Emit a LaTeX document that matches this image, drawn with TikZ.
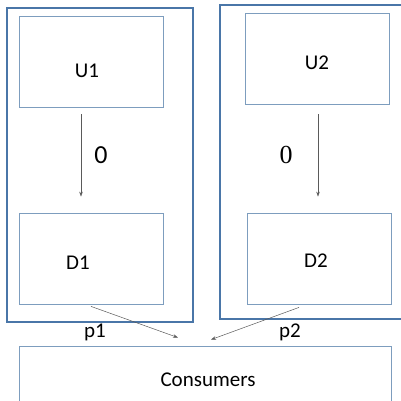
\documentclass[tikz,border=0pt]{standalone}
\usepackage{fontspec}
\setmainfont{Carlito}
\newfontfamily\serifzero{Liberation Serif}
\usepackage{tikz}
\usetikzlibrary{calc, positioning, arrows.meta}

\definecolor{frameblue}{RGB}{74,118,168}
\definecolor{boxblue}{RGB}{125,157,190}
\definecolor{arrowgray}{RGB}{90,90,90}

\tikzset{
	firm/.style={draw=frameblue, line width=1.6pt, inner sep=0pt},
	unit/.style={draw=boxblue, line width=0.8pt, inner sep=0pt, minimum width=144pt, minimum height=91pt},
	tag/.style={font=\fontsize{21}{24}\selectfont, inner sep=0pt},
	flow/.style={draw=arrowgray, line width=0.5pt, -{Stealth[length=5pt,width=3.5pt]}},
	zero/.style={font=\fontsize{26}{30}\selectfont}
}

\begin{document}
\begin{tikzpicture}[x=1pt, y=-1pt]
	\useasboundingbox (0,0) rectangle (401,401);
	\clip (0,0) rectangle (401,401);

	% the two firms
	\node[firm, minimum width=186pt, minimum height=314pt] (F1) at (100,165) {};
	\node[firm, minimum width=190pt, minimum height=314pt] (F2) at (315,162) {};

	\node[unit, label={[tag, xshift=-4pt, yshift=-9pt]center:U1}] (U1) at (91,61.5) {};
	\node[unit, label={[tag, yshift=-4pt]center:U2}] (U2) at (317,58.5) {};
	\node[unit, label={[tag, xshift=-13pt, yshift=-4pt]center:D1}] (D1) at (91,258.5) {};
	\node[unit, label={[tag, xshift=-3pt, yshift=-2pt]center:D2}] (D2) at (319,258.5) {};

	\node[unit, minimum width=372pt, minimum height=68pt, label={[tag, xshift=3pt]center:Consumers}] (C) at (205,380) {};

	% transfer prices
	\draw[flow, shorten <=7pt, shorten >=16pt] ([xshift=-10pt]U1.south) -- ([xshift=-10pt]D1.north);
	\draw[flow, shorten <=10pt, shorten >=16pt] ([xshift=1pt]U2.south) -- ([xshift=-1pt]D2.north);
	\node[zero] (z1) at (101,155) {0};
	\node[zero] (z2) at (286,155) {\serifzero 0};

	% retail prices
	\draw[flow] ([yshift=-2pt]D1.south) -- ([xshift=-27pt,yshift=8pt]C.north);
	\draw[flow] ([xshift=-20pt,yshift=-3pt]D2.south) -- ([xshift=6pt,yshift=6pt]C.north);
	\node[tag] (p1) at (95,332) {p1};
	\node[tag] (p2) at (290,332) {p2};
\end{tikzpicture}
\end{document}
